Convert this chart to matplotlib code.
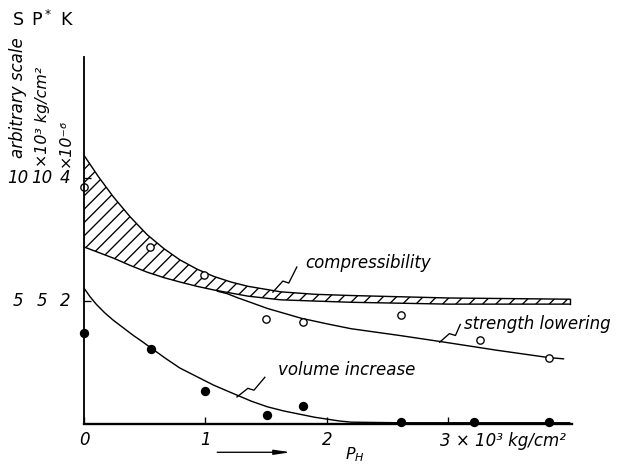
import numpy as np
import matplotlib
matplotlib.use('Agg')
import matplotlib.pyplot as plt
from matplotlib.transforms import blended_transform_factory

# values (x in 10^3 kg/cm^2, y in K-scale units)
band_x = [0, 0.12, 0.24, 0.38, 0.52, 0.66, 0.79, 0.93, 1.07, 1.21, 1.35, 1.62, 1.9, 2.2, 3.0, 4.0]
band_upper = [4.37, 4.02, 3.70, 3.37, 3.08, 2.85, 2.67, 2.52, 2.40, 2.31, 2.24, 2.15, 2.11, 2.09, 2.05, 2.03]
band_lower = [2.88, 2.79, 2.70, 2.58, 2.47, 2.38, 2.31, 2.24, 2.18, 2.13, 2.08, 2.02, 2.00, 1.98, 1.95, 1.95]

open_x = [0, 0.54, 0.99, 1.50, 1.80, 2.61, 3.26, 3.83]
open_y = [3.85, 2.88, 2.42, 1.71, 1.66, 1.77, 1.37, 1.07]

strength_x = [1.10, 1.18, 1.27, 1.37, 1.51, 1.65, 1.79, 2.0, 2.2, 2.6, 2.94, 3.4, 3.83, 3.95]
strength_y = [2.16, 2.12, 2.05, 1.98, 1.88, 1.80, 1.72, 1.63, 1.55, 1.44, 1.34, 1.20, 1.08, 1.06]

filled_x = [0, 0.55, 1.0, 1.51, 1.80, 2.61, 3.21, 3.83]
filled_y = [1.48, 1.22, 0.54, 0.15, 0.29, 0.03, 0.03, 0.03]

volume_x = [0, 0.05, 0.1, 0.17, 0.24, 0.32, 0.4, 0.48, 0.55, 0.67, 0.79, 0.93, 1.07, 1.26,
            1.38, 1.51, 1.65, 1.8, 1.9, 2.0, 2.1, 2.2, 2.6, 3.2, 4.0]
volume_y = [2.21, 2.07, 1.95, 1.81, 1.69, 1.57, 1.45, 1.34, 1.24, 1.07, 0.91, 0.77, 0.63, 0.47,
            0.37, 0.28, 0.21, 0.15, 0.11, 0.08, 0.05, 0.03, 0.02, 0.02, 0.02]

xtick_labels = ['0', '1', '2', '']
ylab_cols = ['arbitrary scale', '×10³ kg/cm²', '×10⁻⁶']
top_scale = ['10', '10', '4']
mid_scale = ['5', '5', '2']

plt.rcParams['font.family'] = 'DejaVu Sans'
plt.rcParams['hatch.linewidth'] = 0.8

DPI = 120
fig = plt.figure(figsize=(629 / DPI, 465 / DPI), dpi=DPI)
ax = fig.add_axes([84 / 629, 1 - 424 / 465, (572 - 84) / 629, (424 - 57) / 465])
ax.set_xlim(0, 4.02)
ax.set_ylim(0, 5.97)

lw = 0.85
# compressibility band
ax.fill_between(band_x, band_lower, band_upper, facecolor='none', edgecolor='black',
                hatch='///', linewidth=0)
ax.plot(band_x, band_upper, color='black', lw=lw)
ax.plot(band_x, band_lower, color='black', lw=lw)
ax.plot([band_x[-1], band_x[-1]], [band_lower[-1], band_upper[-1]], color='black', lw=lw)

ax.plot(strength_x, strength_y, color='black', lw=lw)
ax.plot(volume_x, volume_y, color='black', lw=lw)

ax.plot(open_x, open_y, 'o', ms=4.4, mfc='white', mec='black', mew=0.8, clip_on=False)
ax.plot(filled_x, filled_y, 'o', ms=4.6, color='black', clip_on=False)

# leaders with a kink
def leader(pts):
    xs, ys = zip(*pts)
    ax.plot(xs, ys, color='black', lw=0.8)

leader([(1.556, 2.146), (1.638, 2.325), (1.687, 2.293), (1.753, 2.553)])
leader([(2.93, 1.33), (3.01, 1.47), (3.06, 1.44), (3.10, 1.62)])
leader([(1.26, 0.44), (1.35, 0.58), (1.40, 0.55), (1.49, 0.76)])

tfont = dict(fontsize=10, style='italic', va='center')
ax.text(1.82, 2.62, 'compressibility', ha='left', **tfont)
ax.text(3.13, 1.63, 'strength lowering', ha='left', **tfont)
ax.text(1.60, 0.88, 'volume increase', ha='left', **tfont)

# axes look
for s in ['top', 'right']:
    ax.spines[s].set_visible(False)
ax.spines['left'].set_linewidth(1.1)
ax.spines['bottom'].set_linewidth(1.4)
ax.set_xticks([0, 1, 2, 3])
ax.set_xticklabels(xtick_labels, fontsize=10, style='italic')
ax.tick_params(axis='x', direction='in', length=4, width=0.8, pad=4)
ax.set_yticks([2, 4])
ax.set_yticklabels([])
ax.tick_params(axis='y', direction='in', length=4, width=0.8)

ax.text(2.93, -0.27, '3 × 10³ kg/cm²', ha='left', va='center', fontsize=10,
        style='italic', clip_on=False)
ax.annotate('', xy=(1.73, -0.46), xytext=(1.07, -0.46), annotation_clip=False,
            arrowprops=dict(arrowstyle='-|>,head_length=0.8,head_width=0.12', lw=0.8,
                            color='black'))
ax.text(2.23, -0.50, r'$P_{H}$', ha='center', va='center', fontsize=9.5, clip_on=False)

# left side scale labels
tr = blended_transform_factory(fig.transFigure, ax.transData)
col_x = [18 / 629, 42 / 629, 65 / 629]
for cx, t1, t2 in zip(col_x, top_scale, mid_scale):
    ax.text(cx, 4.0, t1, transform=tr, ha='center', va='center', fontsize=10, style='italic')
    ax.text(cx, 2.0, t2, transform=tr, ha='center', va='center', fontsize=10, style='italic')

col_bottom = [1 - 158 / 465, 1 - 167 / 465, 1 - 167 / 465]
col_size = [10, 9.5, 9.5]
for cx, cy, fs, t in zip(col_x, col_bottom, col_size, ylab_cols):
    fig.text(cx, cy, t, rotation=90, ha='center', va='bottom', fontsize=fs, style='italic')

fig.text(18 / 629, 1 - 20 / 465, 'S', ha='center', va='center', fontsize=10.5)
fig.text(41 / 629, 1 - 20 / 465, r'$\mathregular{P^*}$', ha='center', va='center', fontsize=10.5)
fig.text(66 / 629, 1 - 20 / 465, 'K', ha='center', va='center', fontsize=10.5)

fig.savefig('out.png', dpi=DPI)
